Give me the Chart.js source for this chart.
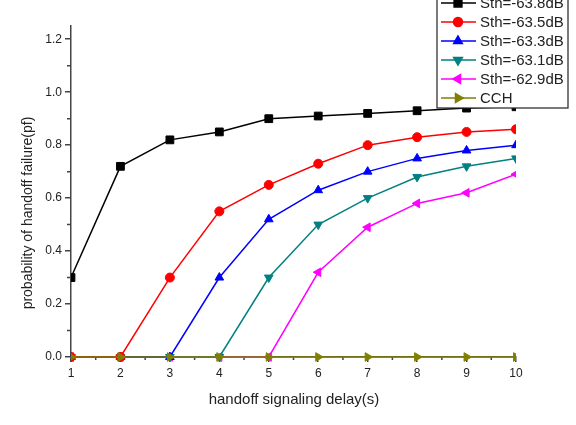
<!DOCTYPE html>
<html>
<head>
<meta charset="utf-8">
<script src="https://cdn.jsdelivr.net/npm/chart.js@4.4.0/dist/chart.umd.min.js"></script>
<style>
  html, body { margin: 0; padding: 0; background: #fff; }
  #wrap { width: 576px; height: 425px; }
</style>
</head>
<body>
<div id="wrap"><canvas id="pf-chart" width="576" height="425"></canvas></div>
<script>
const delays = [1, 2, 3, 4, 5, 6, 7, 8, 9, 10];
const sth638 = [0.30, 0.72, 0.82, 0.85, 0.90, 0.91, 0.92, 0.93, 0.94, 0.945];
const sth635 = [0, 0, 0.30, 0.55, 0.65, 0.73, 0.80, 0.83, 0.85, 0.86];
const sth633 = [0, 0, 0, 0.30, 0.52, 0.63, 0.70, 0.75, 0.78, 0.80];
const sth631 = [0, 0, 0, 0, 0.30, 0.50, 0.60, 0.68, 0.72, 0.75];
const sth629 = [0, 0, 0, 0, 0, 0.32, 0.49, 0.58, 0.62, 0.69];
const cch = [0, 0, 0, 0, 0, 0, 0, 0, 0, 0];

const seriesNames = ['Sth=-63.8dB', 'Sth=-63.5dB', 'Sth=-63.3dB', 'Sth=-63.1dB', 'Sth=-62.9dB', 'CCH'];
const xTicks = [1, 2, 3, 4, 5, 6, 7, 8, 9, 10];
const yTicks = [0, 0.2, 0.4, 0.6, 0.8, 1.0, 1.2];
const xMinor = [1.5, 2.5, 3.5, 4.5, 5.5, 6.5, 7.5, 8.5, 9.5];
const yMinor = [0.1, 0.3, 0.5, 0.7, 0.9, 1.1];

const FONT = 'Arial, "Liberation Sans", sans-serif';

function makeSet(i, values, color, style, rotation, radius, order) {
    return {
        label: seriesNames[i],
        data: values.map((v, k) => ({ x: delays[k], y: v })),
        borderColor: color,
        backgroundColor: color,
        borderWidth: 1.5,
        pointStyle: style,
        rotation: rotation,
        pointRadius: radius,
        pointBorderWidth: 1,
        pointBackgroundColor: color,
        pointBorderColor: color,
        tension: 0,
        // cut the markers at the left and right plot edges only
        clip: { left: 0, right: 0, top: false, bottom: false },
        order: order
    };
}

// minor ticks like the original plot
const minorTicks = {
    id: 'minorTicks',
    beforeDatasetsDraw(chart) {
        const ctx = chart.ctx;
        const xs = chart.scales.x, ys = chart.scales.y;
        const area = chart.chartArea;
        ctx.save();
        ctx.strokeStyle = '#444';
        ctx.lineWidth = 1.5;
        ctx.beginPath();
        xMinor.forEach(v => {
            const px = xs.getPixelForValue(v);
            ctx.moveTo(px, area.bottom);
            ctx.lineTo(px, area.bottom + 3);
        });
        yMinor.forEach(v => {
            const py = ys.getPixelForValue(v);
            ctx.moveTo(area.left, py);
            ctx.lineTo(area.left - 4, py);
        });
        ctx.stroke();
        ctx.restore();
    }
};

// axis titles and the boxed legend in the top right corner
const decorations = {
    id: 'decorations',
    afterDraw(chart) {
        const ctx = chart.ctx;
        ctx.save();
        ctx.fillStyle = '#222';
        ctx.textAlign = 'center';
        ctx.textBaseline = 'middle';
        ctx.font = '15px ' + FONT;
        ctx.fillText('handoff signaling delay(s)', 294, 400);
        ctx.translate(28, 213);
        ctx.rotate(-Math.PI / 2);
        ctx.font = '14px ' + FONT;
        ctx.fillText('probability of handoff failure(pf)', 0, 0);
        ctx.restore();

        ctx.save();
        ctx.fillStyle = '#fff';
        ctx.fillRect(437, -2, 131, 110);
        ctx.strokeStyle = '#222';
        ctx.lineWidth = 1.2;
        ctx.strokeRect(437, -2, 131, 110);
        ctx.font = '15px ' + FONT;
        ctx.textAlign = 'left';
        ctx.textBaseline = 'middle';
        chart.data.datasets.forEach((ds, i) => {
            const y = 3 + i * 19;
            ctx.strokeStyle = ds.borderColor;
            ctx.lineWidth = 1.5;
            ctx.beginPath();
            ctx.moveTo(441, y);
            ctx.lineTo(476, y);
            ctx.stroke();
            ctx.fillStyle = ds.borderColor;
            Chart.helpers.drawPoint(ctx, { pointStyle: ds.pointStyle, rotation: ds.rotation, radius: ds.pointRadius, borderWidth: 1 }, 458, y);
            ctx.fillStyle = '#222';
            ctx.fillText(ds.label, 480, y + 1);
        });
        ctx.restore();
    }
};

const ctx = document.getElementById('pf-chart').getContext('2d');
const pfChart = new Chart(ctx, {
    type: 'line',
    data: {
        datasets: [
            makeSet(0, sth638, '#000000', 'rect', 0, 5.5, 1),
            makeSet(1, sth635, '#ff0000', 'circle', 0, 4.5, 1),
            makeSet(2, sth633, '#0000ff', 'triangle', 0, 5, 1),
            makeSet(3, sth631, '#008080', 'triangle', 180, 5, 1),
            makeSet(4, sth629, '#ff00ff', 'triangle', -90, 5, 1),
            makeSet(5, cch, '#808000', 'triangle', 90, 5, 0)
        ]
    },
    options: {
        responsive: false,
        animation: false,
        layout: { padding: { left: 0, top: 26, right: 60, bottom: 0 } },
        plugins: {
            legend: { display: false },
            tooltip: { enabled: false }
        },
        scales: {
            x: {
                type: 'linear',
                min: 1,
                max: 10,
                afterBuildTicks: scale => { scale.ticks = xTicks.map(v => ({ value: v })); },
                afterFit: scale => { scale.height = 68; },
                grid: { drawOnChartArea: false, tickLength: 5, color: '#444', lineWidth: 1.5 },
                border: { display: true, color: '#444', width: 1.5 },
                ticks: { color: '#222', font: { size: 12, family: FONT }, padding: 4, maxRotation: 0 }
            },
            y: {
                type: 'linear',
                min: 0,
                max: 1.25,
                afterBuildTicks: scale => { scale.ticks = yTicks.map(v => ({ value: v })); },
                afterFit: scale => { scale.width = 71; },
                grid: { drawOnChartArea: false, tickLength: 6, color: '#444', lineWidth: 1.5 },
                border: { display: true, color: '#444', width: 1.5 },
                ticks: { color: '#222', font: { size: 12, family: FONT }, padding: 3, callback: v => v.toFixed(1) }
            }
        }
    },
    plugins: [minorTicks, decorations]
});
</script>
</body>
</html>
